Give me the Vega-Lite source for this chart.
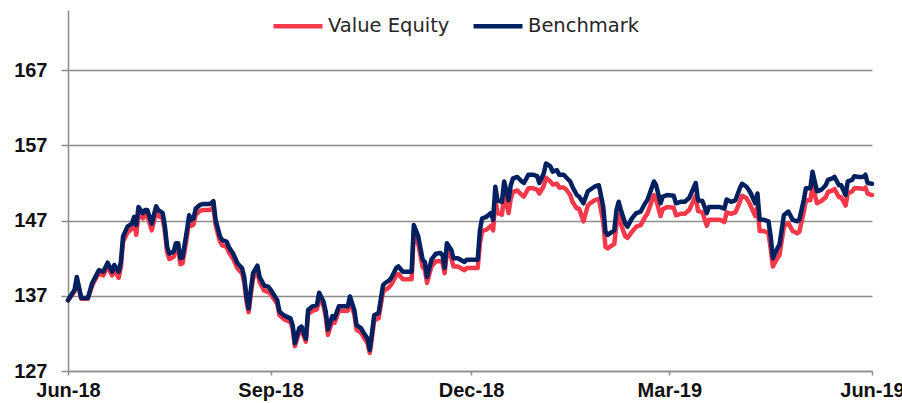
{
"$schema": "https://vega.github.io/schema/vega-lite/v6.json",
"width": 804, "height": 361,
"autosize": {"type": "none"},
"padding": {"left": 68, "top": 10, "right": 30, "bottom": 32},
"background": "white",
"config": {"view": {"stroke": null}},
"data": {"values": [
{"d":"2018-06-01","ve":136.4,"bm":136.4},
{"d":"2018-06-04","ve":137.6,"bm":137.8},
{"d":"2018-06-05","ve":139.2,"bm":139.5},
{"d":"2018-06-07","ve":136.6,"bm":136.7},
{"d":"2018-06-10","ve":136.6,"bm":136.7},
{"d":"2018-06-12","ve":138.4,"bm":138.7},
{"d":"2018-06-15","ve":140.0,"bm":140.4},
{"d":"2018-06-17","ve":139.7,"bm":140.2},
{"d":"2018-06-19","ve":140.9,"bm":141.4},
{"d":"2018-06-21","ve":139.7,"bm":140.2},
{"d":"2018-06-22","ve":140.5,"bm":141.1},
{"d":"2018-06-24","ve":139.4,"bm":140.2},
{"d":"2018-06-25","ve":140.8,"bm":141.5},
{"d":"2018-06-26","ve":144.2,"bm":144.9},
{"d":"2018-06-28","ve":145.4,"bm":146.2},
{"d":"2018-06-30","ve":145.9,"bm":146.6},
{"d":"2018-07-01","ve":146.8,"bm":147.5},
{"d":"2018-07-02","ve":145.1,"bm":146.4},
{"d":"2018-07-03","ve":148.0,"bm":148.8},
{"d":"2018-07-05","ve":147.3,"bm":148.0},
{"d":"2018-07-06","ve":147.7,"bm":148.4},
{"d":"2018-07-07","ve":147.7,"bm":148.4},
{"d":"2018-07-09","ve":145.7,"bm":146.6},
{"d":"2018-07-11","ve":148.1,"bm":148.9},
{"d":"2018-07-12","ve":147.6,"bm":148.4},
{"d":"2018-07-14","ve":147.3,"bm":148.0},
{"d":"2018-07-15","ve":145.5,"bm":146.2},
{"d":"2018-07-16","ve":142.8,"bm":143.5},
{"d":"2018-07-17","ve":141.9,"bm":142.6},
{"d":"2018-07-19","ve":142.2,"bm":142.9},
{"d":"2018-07-20","ve":143.3,"bm":144.0},
{"d":"2018-07-21","ve":143.3,"bm":144.0},
{"d":"2018-07-22","ve":141.2,"bm":142.0},
{"d":"2018-07-23","ve":141.3,"bm":142.1},
{"d":"2018-07-25","ve":144.9,"bm":145.7},
{"d":"2018-07-26","ve":146.9,"bm":147.7},
{"d":"2018-07-27","ve":146.3,"bm":147.1},
{"d":"2018-07-28","ve":146.5,"bm":147.3},
{"d":"2018-07-29","ve":147.8,"bm":148.6},
{"d":"2018-07-31","ve":148.3,"bm":149.1},
{"d":"2018-08-01","ve":148.4,"bm":149.2},
{"d":"2018-08-04","ve":148.4,"bm":149.2},
{"d":"2018-08-05","ve":148.5,"bm":149.3},
{"d":"2018-08-06","ve":148.8,"bm":149.6},
{"d":"2018-08-07","ve":146.4,"bm":147.1},
{"d":"2018-08-09","ve":144.2,"bm":144.9},
{"d":"2018-08-10","ve":143.7,"bm":144.4},
{"d":"2018-08-12","ve":143.5,"bm":144.2},
{"d":"2018-08-13","ve":142.8,"bm":143.5},
{"d":"2018-08-15","ve":141.9,"bm":142.6},
{"d":"2018-08-17","ve":140.6,"bm":141.3},
{"d":"2018-08-19","ve":140.0,"bm":140.7},
{"d":"2018-08-20","ve":138.8,"bm":139.5},
{"d":"2018-08-21","ve":136.3,"bm":136.9},
{"d":"2018-08-22","ve":134.8,"bm":135.3},
{"d":"2018-08-23","ve":137.2,"bm":137.8},
{"d":"2018-08-24","ve":139.3,"bm":140.0},
{"d":"2018-08-26","ve":140.3,"bm":141.0},
{"d":"2018-08-27","ve":138.8,"bm":139.5},
{"d":"2018-08-29","ve":137.7,"bm":138.4},
{"d":"2018-08-31","ve":137.5,"bm":138.2},
{"d":"2018-09-01","ve":137.2,"bm":137.8},
{"d":"2018-09-04","ve":135.9,"bm":136.4},
{"d":"2018-09-05","ve":134.4,"bm":134.9},
{"d":"2018-09-07","ve":133.9,"bm":134.4},
{"d":"2018-09-10","ve":133.5,"bm":134.0},
{"d":"2018-09-11","ve":132.6,"bm":133.1},
{"d":"2018-09-12","ve":130.3,"bm":130.7},
{"d":"2018-09-14","ve":132.2,"bm":132.7},
{"d":"2018-09-15","ve":132.4,"bm":132.9},
{"d":"2018-09-17","ve":130.9,"bm":131.3},
{"d":"2018-09-18","ve":134.6,"bm":135.1},
{"d":"2018-09-20","ve":135.0,"bm":135.6},
{"d":"2018-09-22","ve":135.2,"bm":135.8},
{"d":"2018-09-23","ve":136.8,"bm":137.4},
{"d":"2018-09-25","ve":135.6,"bm":136.2},
{"d":"2018-09-26","ve":134.2,"bm":134.9},
{"d":"2018-09-27","ve":131.8,"bm":132.5},
{"d":"2018-09-29","ve":133.7,"bm":134.3},
{"d":"2018-09-30","ve":133.4,"bm":134.0},
{"d":"2018-10-02","ve":135.0,"bm":135.6},
{"d":"2018-10-04","ve":135.0,"bm":135.6},
{"d":"2018-10-06","ve":135.0,"bm":135.6},
{"d":"2018-10-07","ve":136.3,"bm":136.9},
{"d":"2018-10-09","ve":134.5,"bm":135.1},
{"d":"2018-10-10","ve":132.5,"bm":133.1},
{"d":"2018-10-12","ve":132.1,"bm":132.7},
{"d":"2018-10-13","ve":131.6,"bm":132.2},
{"d":"2018-10-15","ve":130.7,"bm":131.3},
{"d":"2018-10-16","ve":129.4,"bm":129.8},
{"d":"2018-10-17","ve":131.5,"bm":132.0},
{"d":"2018-10-18","ve":133.7,"bm":134.4},
{"d":"2018-10-20","ve":134.0,"bm":134.7},
{"d":"2018-10-22","ve":137.5,"bm":138.4},
{"d":"2018-10-23","ve":137.8,"bm":138.7},
{"d":"2018-10-25","ve":138.2,"bm":139.1},
{"d":"2018-10-26","ve":138.6,"bm":139.5},
{"d":"2018-10-28","ve":139.7,"bm":140.7},
{"d":"2018-10-29","ve":139.9,"bm":140.9},
{"d":"2018-10-31","ve":139.2,"bm":140.2},
{"d":"2018-11-02","ve":139.2,"bm":140.2},
{"d":"2018-11-04","ve":139.2,"bm":140.2},
{"d":"2018-11-05","ve":145.3,"bm":146.4},
{"d":"2018-11-07","ve":143.9,"bm":144.9},
{"d":"2018-11-09","ve":140.8,"bm":141.8},
{"d":"2018-11-10","ve":140.5,"bm":141.5},
{"d":"2018-11-11","ve":138.7,"bm":139.5},
{"d":"2018-11-13","ve":140.9,"bm":141.8},
{"d":"2018-11-15","ve":141.6,"bm":142.6},
{"d":"2018-11-17","ve":141.6,"bm":142.7},
{"d":"2018-11-18","ve":141.4,"bm":142.4},
{"d":"2018-11-19","ve":140.0,"bm":140.7},
{"d":"2018-11-20","ve":143.0,"bm":144.0},
{"d":"2018-11-22","ve":142.0,"bm":143.1},
{"d":"2018-11-23","ve":140.9,"bm":142.0},
{"d":"2018-11-25","ve":140.9,"bm":142.0},
{"d":"2018-11-28","ve":140.4,"bm":141.5},
{"d":"2018-11-29","ve":140.7,"bm":141.8},
{"d":"2018-12-02","ve":140.7,"bm":141.8},
{"d":"2018-12-04","ve":140.7,"bm":141.8},
{"d":"2018-12-05","ve":144.0,"bm":145.7},
{"d":"2018-12-06","ve":145.6,"bm":147.3},
{"d":"2018-12-08","ve":145.8,"bm":147.5},
{"d":"2018-12-10","ve":146.3,"bm":148.0},
{"d":"2018-12-11","ve":145.7,"bm":147.1},
{"d":"2018-12-12","ve":149.8,"bm":151.5},
{"d":"2018-12-13","ve":148.0,"bm":149.7},
{"d":"2018-12-15","ve":147.8,"bm":149.5},
{"d":"2018-12-16","ve":150.4,"bm":152.2},
{"d":"2018-12-18","ve":148.0,"bm":149.7},
{"d":"2018-12-19","ve":149.9,"bm":151.7},
{"d":"2018-12-20","ve":150.8,"bm":152.6},
{"d":"2018-12-22","ve":151.0,"bm":152.8},
{"d":"2018-12-24","ve":150.4,"bm":152.2},
{"d":"2018-12-25","ve":150.2,"bm":152.0},
{"d":"2018-12-27","ve":151.3,"bm":153.1},
{"d":"2018-12-29","ve":151.3,"bm":153.1},
{"d":"2018-12-31","ve":151.1,"bm":152.9},
{"d":"2019-01-01","ve":150.6,"bm":152.0},
{"d":"2019-01-03","ve":151.6,"bm":153.3},
{"d":"2019-01-04","ve":152.7,"bm":154.6},
{"d":"2019-01-06","ve":152.2,"bm":154.2},
{"d":"2019-01-07","ve":151.8,"bm":153.5},
{"d":"2019-01-09","ve":151.9,"bm":153.7},
{"d":"2019-01-10","ve":151.4,"bm":153.1},
{"d":"2019-01-12","ve":151.4,"bm":153.1},
{"d":"2019-01-13","ve":151.2,"bm":152.8},
{"d":"2019-01-15","ve":150.4,"bm":152.2},
{"d":"2019-01-16","ve":149.5,"bm":151.5},
{"d":"2019-01-18","ve":148.6,"bm":150.4},
{"d":"2019-01-19","ve":148.6,"bm":150.2},
{"d":"2019-01-21","ve":146.9,"bm":149.3},
{"d":"2019-01-23","ve":149.0,"bm":150.9},
{"d":"2019-01-24","ve":149.3,"bm":151.1},
{"d":"2019-01-26","ve":149.7,"bm":151.5},
{"d":"2019-01-28","ve":149.9,"bm":151.7},
{"d":"2019-01-30","ve":146.8,"bm":148.8},
{"d":"2019-01-31","ve":143.5,"bm":145.5},
{"d":"2019-02-01","ve":143.3,"bm":145.1},
{"d":"2019-02-04","ve":143.9,"bm":145.7},
{"d":"2019-02-05","ve":146.5,"bm":148.4},
{"d":"2019-02-06","ve":147.8,"bm":149.5},
{"d":"2019-02-07","ve":146.5,"bm":148.4},
{"d":"2019-02-09","ve":144.9,"bm":146.6},
{"d":"2019-02-10","ve":144.7,"bm":146.2},
{"d":"2019-02-12","ve":145.5,"bm":147.3},
{"d":"2019-02-14","ve":146.2,"bm":148.0},
{"d":"2019-02-16","ve":146.4,"bm":148.2},
{"d":"2019-02-18","ve":147.5,"bm":149.3},
{"d":"2019-02-19","ve":147.9,"bm":149.7},
{"d":"2019-02-22","ve":150.4,"bm":152.2},
{"d":"2019-02-23","ve":149.8,"bm":151.7},
{"d":"2019-02-25","ve":147.6,"bm":149.3},
{"d":"2019-02-26","ve":148.5,"bm":150.2},
{"d":"2019-02-28","ve":148.8,"bm":150.4},
{"d":"2019-03-03","ve":148.7,"bm":150.3},
{"d":"2019-03-04","ve":147.7,"bm":149.3},
{"d":"2019-03-06","ve":147.9,"bm":149.5},
{"d":"2019-03-08","ve":147.9,"bm":149.5},
{"d":"2019-03-10","ve":148.4,"bm":150.0},
{"d":"2019-03-13","ve":150.3,"bm":152.0},
{"d":"2019-03-14","ve":148.3,"bm":149.7},
{"d":"2019-03-16","ve":148.1,"bm":149.6},
{"d":"2019-03-18","ve":146.3,"bm":148.0},
{"d":"2019-03-19","ve":147.1,"bm":148.8},
{"d":"2019-03-22","ve":147.1,"bm":148.8},
{"d":"2019-03-24","ve":147.1,"bm":148.8},
{"d":"2019-03-26","ve":146.8,"bm":148.6},
{"d":"2019-03-27","ve":148.1,"bm":149.8},
{"d":"2019-03-29","ve":147.9,"bm":149.5},
{"d":"2019-03-31","ve":148.1,"bm":149.7},
{"d":"2019-04-02","ve":149.5,"bm":151.3},
{"d":"2019-04-03","ve":150.3,"bm":151.9},
{"d":"2019-04-05","ve":150.0,"bm":151.5},
{"d":"2019-04-06","ve":149.5,"bm":151.1},
{"d":"2019-04-07","ve":148.9,"bm":150.6},
{"d":"2019-04-09","ve":147.6,"bm":149.3},
{"d":"2019-04-10","ve":148.8,"bm":150.6},
{"d":"2019-04-11","ve":145.6,"bm":147.1},
{"d":"2019-04-13","ve":145.6,"bm":147.1},
{"d":"2019-04-15","ve":145.3,"bm":146.9},
{"d":"2019-04-16","ve":143.3,"bm":144.9},
{"d":"2019-04-17","ve":140.9,"bm":142.0},
{"d":"2019-04-19","ve":142.0,"bm":143.3},
{"d":"2019-04-20","ve":142.4,"bm":143.8},
{"d":"2019-04-22","ve":146.2,"bm":147.7},
{"d":"2019-04-24","ve":146.7,"bm":148.2},
{"d":"2019-04-26","ve":145.6,"bm":147.1},
{"d":"2019-04-28","ve":145.3,"bm":146.9},
{"d":"2019-04-29","ve":145.5,"bm":147.1},
{"d":"2019-05-01","ve":148.1,"bm":149.7},
{"d":"2019-05-02","ve":149.7,"bm":151.3},
{"d":"2019-05-04","ve":149.7,"bm":151.3},
{"d":"2019-05-05","ve":151.6,"bm":153.5},
{"d":"2019-05-07","ve":149.3,"bm":150.9},
{"d":"2019-05-09","ve":149.6,"bm":151.1},
{"d":"2019-05-11","ve":150.1,"bm":151.7},
{"d":"2019-05-12","ve":150.8,"bm":152.4},
{"d":"2019-05-14","ve":151.0,"bm":152.6},
{"d":"2019-05-15","ve":151.2,"bm":152.8},
{"d":"2019-05-17","ve":150.1,"bm":151.7},
{"d":"2019-05-18","ve":150.1,"bm":151.7},
{"d":"2019-05-20","ve":149.0,"bm":150.4},
{"d":"2019-05-21","ve":150.6,"bm":152.2},
{"d":"2019-05-23","ve":150.9,"bm":152.4},
{"d":"2019-05-24","ve":151.3,"bm":152.9},
{"d":"2019-05-26","ve":151.3,"bm":152.8},
{"d":"2019-05-28","ve":151.2,"bm":152.8},
{"d":"2019-05-29","ve":151.4,"bm":153.1},
{"d":"2019-05-30","ve":150.6,"bm":152.0},
{"d":"2019-06-01","ve":150.4,"bm":151.9}
]},
"transform": [{"fold": ["ve", "bm"], "as": ["series", "value"]}],
"mark": {"type": "line", "strokeWidth": 4.5, "strokeJoin": "round", "strokeCap": "round"},
"encoding": {
  "x": {"field": "d", "type": "temporal",
    "scale": {"type": "utc", "domain": [{"year": 2018, "month": 6, "date": 1, "utc": true}, {"year": 2019, "month": 6, "date": 1, "utc": true}]},
    "axis": {"title": null, "grid": false,
      "values": [{"year": 2018, "month": 6, "date": 1, "utc": true}, {"year": 2018, "month": 9, "date": 1, "utc": true}, {"year": 2018, "month": 12, "date": 1, "utc": true}, {"year": 2019, "month": 3, "date": 1, "utc": true}, {"year": 2019, "month": 6, "date": 1, "utc": true}],
      "labelExpr": "utcFormat(datum.value, '%b-%y')",
      "domainColor": "#8c8c8c", "domainWidth": 1.5, "tickColor": "#8c8c8c", "tickWidth": 1.5, "tickSize": 4,
      "labelFont": "Liberation Sans", "labelFontWeight": "bold", "labelFontSize": 20, "labelColor": "#111111",
      "labelPadding": 5, "labelFlush": false, "labelOverlap": false}},
  "y": {"field": "value", "type": "quantitative",
    "scale": {"domain": [127, 175], "nice": false, "zero": false},
    "axis": {"title": null, "values": [127, 137, 147, 157, 167], "grid": true, "gridColor": "#8c8c8c", "gridWidth": 1.5,
      "domainColor": "#8c8c8c", "domainWidth": 1.5, "tickColor": "#8c8c8c", "tickWidth": 1.5, "tickSize": 7,
      "labelFont": "Liberation Sans", "labelFontWeight": "bold", "labelFontSize": 20, "labelColor": "#111111", "labelPadding": 14}},
  "color": {"field": "series", "type": "nominal",
    "scale": {"domain": ["ve", "bm"], "range": ["#f5394a", "#002060"]},
    "legend": {"orient": "none", "legendX": 203, "legendY": -11, "direction": "horizontal", "title": null,
      "symbolType": "stroke", "symbolStrokeWidth": 4.5, "symbolSize": 2400,
      "labelFont": "DejaVu Sans", "labelFontSize": 19.5, "labelColor": "#262626",
      "columnPadding": 14, "labelOffset": 3,
      "labelExpr": "datum.label == 've' ? 'Value Equity' : 'Benchmark'"}}
}
}
